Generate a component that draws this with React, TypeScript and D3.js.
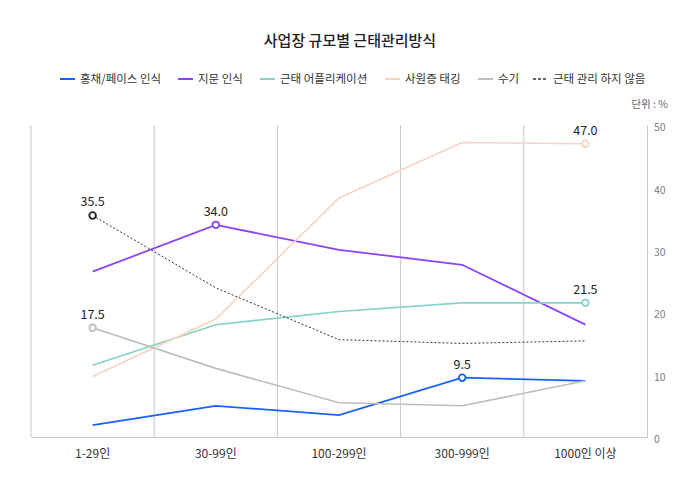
// @ts-nocheck
import { useEffect, useRef } from 'react';
import * as d3 from 'd3';

const categories = ['1-29인', '30-99인', '100-299인', '300-999인', '1000인 이상'];
const seriesNames = ['홍채/페이스 인식', '지문 인식', '근태 어플리케이션', '사원증 태깅', '수기', '근태 관리 하지 않음'];
const irisFace = [1.9, 5.0, 3.5, 9.5, 9.0];
const fingerprint = [26.5, 34.0, 30.0, 27.6, 18.0];
const attendanceApp = [11.5, 18.0, 20.1, 21.5, 21.5];
const badgeTag = [9.7, 18.9, 38.3, 47.2, 47.0];
const manual = [17.5, 11.0, 5.5, 5.0, 9.0];
const noManagement = [35.5, 23.9, 15.6, 15.0, 15.4];
// which point of each series carries a value label
const labelIndex = [3, 1, 4, 4, 0, 0];
const yTicks = [0, 10, 20, 30, 40, 50];

const FONT = '"Noto Sans CJK KR", "Noto Sans", sans-serif';

const App = () => {
  const svgRef = useRef();

  useEffect(() => {
    const svg = d3.select(svgRef.current);
    svg.selectAll('*').remove();

    const width = 700;
    const height = 488;
    const left = 31;
    const right = 647;
    const top = 125;
    const bottom = 437;

    svg.attr('width', width).attr('height', height).style('font-family', FONT);
    svg.append('rect').attr('width', width).attr('height', height).attr('fill', '#fff');

    const series = [
      { name: seriesNames[0], values: irisFace, color: '#1761fb', width: 1.8, dash: null },
      { name: seriesNames[1], values: fingerprint, color: '#8a44fb', width: 1.8, dash: null },
      { name: seriesNames[2], values: attendanceApp, color: '#84d3c6', width: 1.6, dash: null },
      { name: seriesNames[3], values: badgeTag, color: '#f7d5c0', width: 1.6, dash: null },
      { name: seriesNames[4], values: manual, color: '#bcbcbc', width: 1.6, dash: null },
      { name: seriesNames[5], values: noManagement, color: '#333', width: 1, dash: '2,2' }
    ];

    const x = d3.scaleBand().domain(categories).range([left, right]);
    const y = d3.scaleLinear().domain([0, 50]).range([bottom, top]);
    const cx = d => x(d) + x.bandwidth() / 2;

    // Title
    svg.append('text')
      .attr('x', 350)
      .attr('y', 46)
      .attr('text-anchor', 'middle')
      .style('font-size', '15px')
      .style('font-weight', 500)
      .attr('fill', '#222')
      .text('사업장 규모별 근태관리방식');

    // Legend
    const legendX = [60, 178, 260, 385, 478, 533];
    series.forEach((s, i) => {
      const g = svg.append('g').attr('transform', `translate(${legendX[i]},79)`);
      g.append('line')
        .attr('x1', 0).attr('x2', 15).attr('y1', 0).attr('y2', 0)
        .attr('stroke', s.color)
        .attr('stroke-width', s.dash ? 1.5 : 2)
        .attr('stroke-dasharray', s.dash ? '3,2' : null);
      g.append('text')
        .attr('x', 20)
        .attr('y', 4)
        .style('font-size', '11.5px')
        .attr('fill', '#333')
        .text(s.name);
    });

    svg.append('text')
      .attr('x', 668)
      .attr('y', 108)
      .attr('text-anchor', 'end')
      .style('font-size', '10.5px')
      .attr('fill', '#666')
      .text('단위 : %');

    // Grid: band separators
    const seps = categories.map(c => x(c));
    svg.append('g')
      .selectAll('line')
      .data(seps)
      .enter()
      .append('line')
      .attr('x1', d => d).attr('x2', d => d)
      .attr('y1', top).attr('y2', bottom)
      .attr('stroke', '#c8c8c8')
      .attr('stroke-width', 1);

    // Right axis
    const yAxis = svg.append('g')
      .attr('transform', `translate(${right},0)`)
      .call(d3.axisRight(y).tickValues(yTicks).tickSize(0).tickPadding(7));
    yAxis.select('.domain').attr('stroke', '#c8c8c8');
    yAxis.selectAll('text')
      .style('font-family', FONT)
      .style('font-size', '10.5px')
      .attr('dy', '0.55em')
      .attr('fill', '#808080');

    // Bottom axis
    const xAxis = svg.append('g')
      .attr('transform', `translate(0,${bottom})`)
      .call(d3.axisBottom(x).tickSize(0).tickPadding(12));
    xAxis.select('.domain').attr('stroke', '#c8c8c8');
    xAxis.selectAll('text')
      .style('font-family', FONT)
      .style('font-size', '12px')
      .attr('fill', '#333');

    // Lines
    const line = d3.line()
      .x((d, i) => cx(categories[i]))
      .y(d => y(d));

    series.forEach(s => {
      svg.append('path')
        .datum(s.values)
        .attr('fill', 'none')
        .attr('stroke', s.color)
        .attr('stroke-width', s.width)
        .attr('stroke-dasharray', s.dash)
        .attr('d', line);
    });

    // Markers and labels
    series.forEach((s, si) => {
      const idx = labelIndex[si];
      const v = s.values[idx];
      const px = cx(categories[idx]);
      const py = y(v);
      svg.append('circle')
        .attr('cx', px)
        .attr('cy', py)
        .attr('r', 3.3)
        .attr('fill', '#fff')
        .attr('stroke', s.dash ? '#222' : s.color)
        .attr('stroke-width', 1.8);
      svg.append('text')
        .attr('x', px)
        .attr('y', py - 9)
        .attr('text-anchor', 'middle')
        .style('font-size', '12.5px')
        .attr('fill', '#222')
        .text(v.toFixed(1));
    });
  }, []);

  return <svg ref={svgRef} style={{ position: 'absolute', left: 0, top: 0, display: 'block' }}></svg>;
};

export default App;
